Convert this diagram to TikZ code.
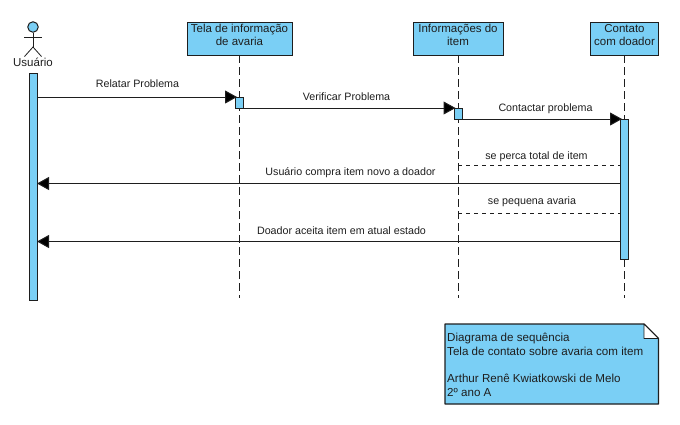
\documentclass[tikz,border=0pt]{standalone}
\usepackage{fontspec}
\setmainfont{Liberation Sans}
\usetikzlibrary{arrows.meta}
\definecolor{fillblue}{RGB}{122,207,245}
\definecolor{ink}{RGB}{30,30,30}
\newcommand\boxlines[1]{\raisebox{-0.8pt}[0pt][0pt]{\begin{tabular}{@{}c@{}}#1\end{tabular}}}
\tikzset{
  head/.style={draw=ink,line width=1pt,fill=fillblue,circle,inner sep=0pt,minimum size=10.5pt},
  stick/.style={draw=ink,line width=0.8pt},
  lifebox/.style={draw=ink,line width=1pt,fill=fillblue,inner sep=0pt,outer sep=0pt,minimum height=33pt,font=\fontsize{11.5}{13}\selectfont,text=ink},
  lifeline/.style={draw=ink,line width=1pt,dash pattern=on 8pt off 4pt},
  bar/.style={draw=ink,line width=1pt,fill=fillblue,inner sep=0pt,outer sep=0pt,minimum width=8pt,anchor=north},
  msg/.style={draw=ink,line width=1pt,-{Triangle[length=12pt,width=13pt,fill=black]}},
  fwd/.style={msg,shorten >=-1.5pt},
  retdash/.style={draw=ink,line width=0.9pt,dash pattern=on 4pt off 4pt},
  lab/.style={inner sep=0pt,font=\fontsize{10.7}{12}\selectfont,text=ink},
}
\begin{document}
\begin{tikzpicture}[x=1pt,y=-1pt]
\useasboundingbox (0,0) rectangle (680,424);
% lifeline heads
\node[lifebox,minimum width=105pt] (tela) at (239.5,38.5) {\boxlines{Tela de informação\\de avaria}};
\node[lifebox,minimum width=90pt] (info) at (458,38.5) {\boxlines{Informações do\\item}};
\node[lifebox,minimum width=67.5pt] (cont) at (624.5,38.5) {\boxlines{Contato\\com doador}};
% lifeline ends
\coordinate (telaend) at (239.5,298);
\coordinate (infoend) at (458,298);
\coordinate (contend) at (624.5,298);
\draw[lifeline] (tela.south) -- (telaend);
\draw[lifeline] (info.south) -- (infoend);
\draw[lifeline] (cont.south) -- (contend);
% actor
\node[head] (hd) at (33,27) {};
\coordinate (hip) at (33,47);
\coordinate (armL) at (24,37);
\coordinate (armR) at (42,37);
\coordinate (legL) at (24.5,56.5);
\coordinate (legR) at (41.5,56.5);
\draw[stick] (hd.south) -- (hip);
\draw[stick] (armL) -- (armR);
\draw[stick] (legL) -- (hip) -- (legR);
\node[lifebox,draw=none,fill=none,minimum height=0pt,minimum width=0pt] (usr) at (33,62.5) {Usuário};
% activation bars
\node[bar,minimum height=227pt] (ua) at (33,73) {};
\node[bar,minimum height=11pt] (b2) at (239.5,97) {};
\node[bar,minimum height=11pt] (b3) at (458,108) {};
\node[bar,minimum height=140pt] (b4) at (624.5,119) {};
% messages
\draw[fwd] (ua.east |- b2.north) -- (b2.north west);
\draw[fwd] (b2.south east) -- (b3.north west);
\draw[fwd] (b3.south east) -- (b4.north west);
\coordinate (y1) at (0,183.5);
\coordinate (y2) at (0,241.5);
\draw[msg] (b4.west |- y1) -- (ua.east |- y1);
\draw[msg] (b4.west |- y2) -- (ua.east |- y2);
\coordinate (d1) at (0,165.5);
\coordinate (d2) at (0,213.5);
\draw[retdash] (info.center |- d1) -- (b4.west |- d1);
\draw[retdash] (info.center |- d2) -- (b4.west |- d2);
% labels
\node[lab] (l1) at (137.5,83.5) {Relatar Problema};
\node[lab] (l2) at (346.5,96.5) {Verificar Problema};
\node[lab] (l3) at (545.5,108.5) {Contactar problema};
\node[lab] (l4) at (536.5,157) {se perca total de item};
\node[lab] (l5) at (350.5,172.5) {Usuário compra item novo a doador};
\node[lab] (l6) at (532,201.5) {se pequena avaria};
\node[lab] (l7) at (341.5,230.5) {Doador aceita item em atual estado};
% note
\coordinate (nA) at (445,324);
\coordinate (nB) at (644,324);
\coordinate (nC) at (658.5,338.5);
\coordinate (nD) at (658.5,404);
\coordinate (nE) at (445,404);
\coordinate (nF) at (644,338.5);
\draw[draw=ink,line width=1.1pt,fill=fillblue,line join=round] (nA) -- (nB) -- (nC) -- (nD) -- (nE) -- cycle;
\draw[draw=ink,line width=0.9pt,fill=white,line join=round] (nB) -- (nC) -- (nF) -- cycle;
\node[anchor=north west,inner sep=0pt,align=left,text=ink,font=\fontsize{11.6}{13.7}\selectfont] (note) at (447,333) {Diagrama de sequência\\Tela de contato sobre avaria com item\\[13.7pt]Arthur Renê Kwiatkowski de Melo\\2º ano A};
\end{tikzpicture}
\end{document}
